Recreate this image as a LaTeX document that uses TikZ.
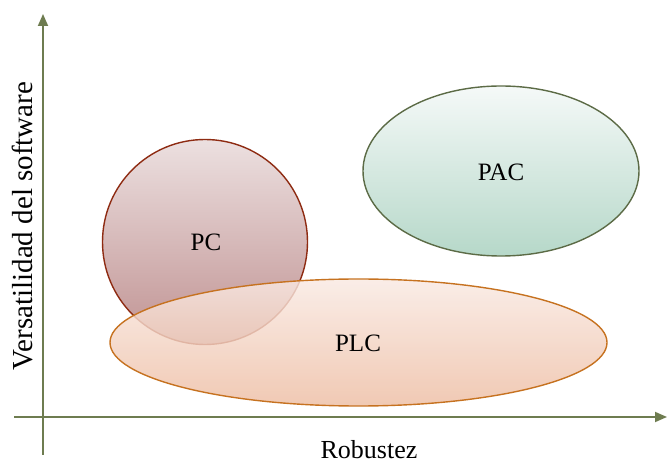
\documentclass[tikz,border=0pt]{standalone}
\usepackage{fontspec}
\setmainfont{Liberation Serif}
\usetikzlibrary{arrows.meta}
\definecolor{axiscol}{RGB}{110,124,80}
\definecolor{pctop}{RGB}{236,224,224}
\definecolor{pcbot}{RGB}{192,146,146}
\definecolor{pcline}{RGB}{142,43,18}
\definecolor{pactop}{RGB}{245,249,248}
\definecolor{pacbot}{RGB}{182,216,201}
\definecolor{pacline}{RGB}{92,107,70}
\definecolor{plctop}{RGB}{249,233,226}
\definecolor{plcbot}{RGB}{237,189,163}
\definecolor{plcline}{RGB}{198,114,32}
\tikzset{
  axis/.style={draw=axiscol, line width=1.8pt, -{Triangle[length=12pt,width=10pt]}},
  setlabel/.style={font=\fontsize{25}{28}\selectfont, text=black},
  axislabel/.style={font=\fontsize{26}{29}\selectfont, text=black},
}
\begin{document}
\begin{tikzpicture}[x=1pt,y=1pt]
  \useasboundingbox (0,0) rectangle (667,466);
  % PC set
  \shade[top color=pctop, bottom color=pcbot, draw=pcline, line width=1.4pt]
    (205,224) circle[radius=102.5];
  % PAC set
  \shade[top color=pactop, bottom color=pacbot, draw=pacline, line width=1.4pt]
    (501,295) ellipse[x radius=138, y radius=85];
  % PLC set, translucent over PC
  \shade[top color=plctop, bottom color=plcbot, draw=plcline, line width=1.4pt,
         fill opacity=0.82]
    (358.5,123.5) ellipse[x radius=248.5, y radius=63.5];
  % set labels
  \node[setlabel] (pc) at (206,224) {PC};
  \node[setlabel] (pac) at (501,294) {PAC};
  \node[setlabel] (plc) at (358,123) {PLC};
  % axes
  \coordinate (ystart) at (43,11);
  \coordinate (yend) at (43,452);
  \coordinate (xstart) at (14,49);
  \coordinate (xend) at (667,49);
  \draw[axis] (ystart) -- (yend);
  \draw[axis] (xstart) -- (xend);
  \node[axislabel, anchor=base] (xlab) at (369,7) {Robustez};
  \node[axislabel, anchor=base, rotate=90, font=\fontsize{29}{32}\selectfont] (ylab) at (32,240) {Versatilidad del software};
\end{tikzpicture}
\end{document}
